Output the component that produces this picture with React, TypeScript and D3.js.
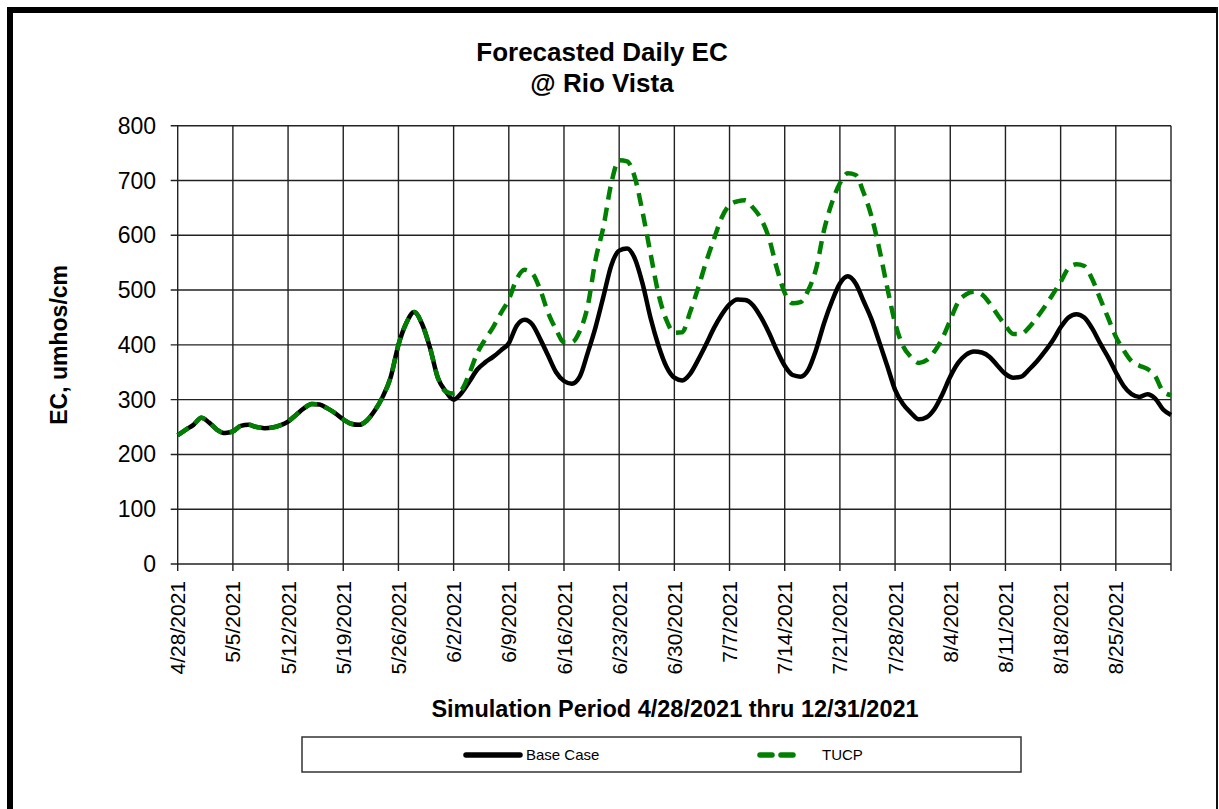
import React from "react";
import * as d3 from "d3";

const startDate = new Date(2021, 3, 28);
const endDate = new Date(2021, 8, 1);

const baseCase = [
  235, 245, 254, 267, 258, 245, 239, 242, 252, 254, 250, 248, 249, 253, 260, 272, 284, 292, 291, 284,
  275, 264, 256, 254, 262, 280, 305, 340, 400, 440, 460, 438, 395, 340, 315, 300, 312, 333, 355, 368,
  378, 390, 403, 435, 446, 437, 410, 380, 350, 334, 329, 342, 385, 432, 488, 545, 572, 576, 557, 510,
  448, 398, 360, 340, 335, 347, 372, 400, 430, 455, 474, 483, 482, 472, 450, 422, 390, 362, 345, 342,
  355, 392, 440, 480, 512, 525, 512, 480, 447, 405, 362, 318, 292, 276, 264, 268, 283, 310, 342, 367,
  382, 388, 386, 378, 362, 347, 340, 342, 355, 370, 388, 408, 432, 450, 456, 450, 430, 403, 378, 350,
  325, 310, 305, 310, 302, 282, 272,
];

const tucp = [
  235, 245, 254, 267, 258, 245, 239, 242, 252, 254, 250, 248, 249, 253, 260, 272, 284, 292, 291, 284,
  275, 264, 256, 254, 262, 280, 305, 340, 400, 440, 460, 438, 395, 340, 315, 311, 318, 348, 385, 410,
  432, 458, 483, 520, 537, 530, 500, 458, 428, 405, 405, 425, 470, 555, 615, 695, 737, 735, 705, 640,
  565, 492, 445, 422, 423, 460, 503, 550, 592, 632, 655, 662, 664, 650, 630, 595, 540, 495, 476, 478,
  500, 540, 610, 660, 695, 713, 710, 678, 635, 575, 505, 440, 398, 378, 367, 372, 388, 412, 445, 478,
  492, 497, 492, 476, 455, 435, 420, 420, 432, 450, 470, 492, 515, 540, 547, 544, 520, 485, 450, 415,
  390, 370, 362, 356, 343, 315, 308,
];

const yTicks = [0, 100, 200, 300, 400, 500, 600, 700, 800];
const titleLines = ["Forecasted Daily EC", "@ Rio Vista"];
const yTitle = "EC, umhos/cm";
const xTitle = "Simulation Period 4/28/2021 thru 12/31/2021";
const legendLabels = ["Base Case", "TUCP"];

const W = 1219;
const H = 809;
const left = 177.7;
const right = 1171;
const top = 125.7;
const bottom = 564;
const font = "'Liberation Sans', Arial, sans-serif";

export default function App() {
  const x = d3.scaleTime().domain([startDate, endDate]).range([left, right]);
  const y = d3.scaleLinear().domain([0, 800]).range([bottom, top]);
  const xTicks = d3.timeDay.range(startDate, d3.timeDay.offset(endDate, 1), 7);
  const fmt = d3.timeFormat("%-m/%-d/%Y");
  const line = d3
    .line<number>()
    .x((_, i) => x(d3.timeDay.offset(startDate, i)))
    .y((d) => y(d))
    .curve(d3.curveMonotoneX);

  return (
    <svg
      width={W}
      height={H}
      style={{ position: "absolute", left: 0, top: 0, background: "#fff" }}
    >
      <rect x={0} y={0} width={W} height={H} fill="#fff" />
      {/* frame */}
      <rect x={7} y={7} width={1211} height={6} fill="#000" />
      <rect x={7} y={7} width={6} height={H - 7} fill="#000" />
      <rect x={1216} y={7} width={2} height={H - 7} fill="#111" />

      {/* title */}
      {titleLines.map((t, i) => (
        <text
          key={t}
          x={602}
          y={61 + i * 31}
          textAnchor="middle"
          fontFamily={font}
          fontWeight="bold"
          fontSize={26}
          fill="#000"
        >
          {t}
        </text>
      ))}

      {/* grid */}
      {yTicks.map((v) => (
        <line
          key={"h" + v}
          x1={left - 7}
          x2={right}
          y1={y(v)}
          y2={y(v)}
          stroke="#222"
          strokeWidth={1.4}
        />
      ))}
      {xTicks.map((d, i) => (
        <line
          key={"v" + i}
          x1={x(d)}
          x2={x(d)}
          y1={top}
          y2={bottom + 7}
          stroke="#222"
          strokeWidth={1.4}
        />
      ))}

      {/* y tick labels */}
      {yTicks.map((v) => (
        <text
          key={"yl" + v}
          x={156}
          y={y(v)}
          dy="0.35em"
          textAnchor="end"
          fontFamily={font}
          fontSize={23}
          fill="#000"
        >
          {v}
        </text>
      ))}

      {/* x tick labels */}
      {xTicks.slice(0, xTicks.length - 1).map((d, i) => (
        <text
          key={"xl" + i}
          transform={`translate(${x(d)},${bottom + 17}) rotate(-90)`}
          dy="0.36em"
          textAnchor="end"
          fontFamily={font}
          fontSize={21}
          fill="#000"
        >
          {fmt(d)}
        </text>
      ))}

      {/* series */}
      <path d={line(baseCase) || ""} fill="none" stroke="#000" strokeWidth={4.5} strokeLinejoin="round" />
      <path
        d={line(tucp) || ""}
        fill="none"
        stroke="#008000"
        strokeWidth={4.5}
        strokeDasharray="13 8"
        strokeLinejoin="round"
      />

      {/* axis titles */}
      <text
        transform={`translate(67,${(top + bottom) / 2}) rotate(-90)`}
        textAnchor="middle"
        fontFamily={font}
        fontWeight="bold"
        fontSize={23}
        fill="#000"
      >
        {yTitle}
      </text>
      <text
        x={675}
        y={717}
        textAnchor="middle"
        fontFamily={font}
        fontWeight="bold"
        fontSize={23.5}
        fill="#000"
      >
        {xTitle}
      </text>

      {/* legend */}
      <rect x={302} y={737} width={719} height={35} fill="#fff" stroke="#333" strokeWidth={1.5} />
      <line x1={466} x2={520} y1={755} y2={755} stroke="#000" strokeWidth={5.5} strokeLinecap="round" />
      <text x={526} y={760} fontFamily={font} fontSize={15} fill="#000">
        {legendLabels[0]}
      </text>
      <line
        x1={760}
        x2={800}
        y1={755}
        y2={755}
        stroke="#008000"
        strokeWidth={5.5}
        strokeDasharray="12 9"
        strokeLinecap="round"
      />
      <text x={822} y={760} fontFamily={font} fontSize={15} fill="#000">
        {legendLabels[1]}
      </text>
    </svg>
  );
}
